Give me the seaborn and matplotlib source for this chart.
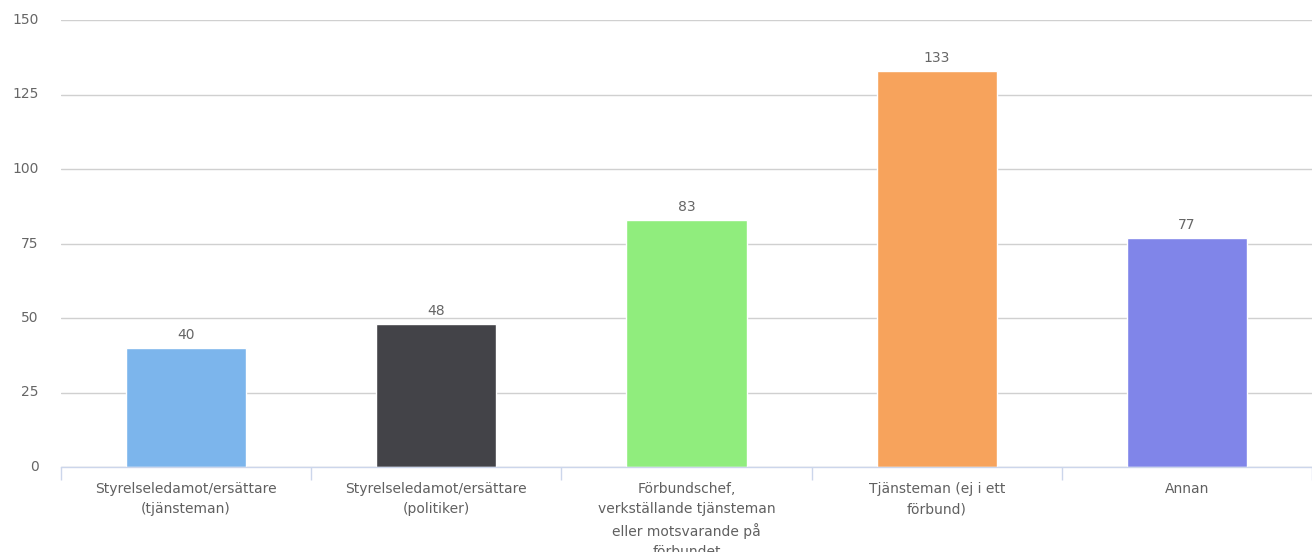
import matplotlib
matplotlib.use("Agg")
import matplotlib.pyplot as plt
import seaborn as sns
import pandas as pd
from matplotlib.ticker import FixedLocator

# data
categories = [
    "Styrelseledamot/ersättare\n(tjänsteman)",
    "Styrelseledamot/ersättare\n(politiker)",
    "Förbundschef,\nverkställande tjänsteman\neller motsvarande på\nförbundet",
    "Tjänsteman (ej i ett\nförbund)",
    "Annan",
]
values = [40, 48, 83, 133, 77]
colors = ["#7cb5ec", "#434348", "#90ed7d", "#f7a35c", "#8085e9"]
y_ticks = [0, 25, 50, 75, 100, 125, 150]

df = pd.DataFrame({"category": categories, "value": values})

sns.set_style("white")
plt.rcParams["font.family"] = ["DejaVu Sans"]

fig = plt.figure(figsize=(13.12, 5.52), dpi=100)
ax = fig.add_axes([61 / 1312, 85 / 552, 1 - 61 / 1312, 447 / 552])

sns.barplot(data=df, x="category", y="value", hue="category",
            palette=colors, legend=False, width=0.48, ax=ax,
            saturation=1, edgecolor="white", linewidth=1)

ax.set_ylim(0, 150)
ax.set_xlim(-0.5, len(categories) - 0.5)
ax.set_yticks(y_ticks)
ax.yaxis.grid(True, color="#d0d0d0", linewidth=1)
ax.set_axisbelow(True)
ax.set_xlabel("")
ax.set_ylabel("")

for s in ["top", "right", "left"]:
    ax.spines[s].set_visible(False)
ax.spines["bottom"].set_color("#ccd6eb")
ax.spines["bottom"].set_linewidth(1)

ax.tick_params(axis="y", length=0, pad=16, labelsize=10, labelcolor="#666666")
ax.tick_params(axis="x", which="major", length=0, pad=11, labelsize=10,
               labelcolor="#606060")
ax.xaxis.set_minor_locator(FixedLocator([i - 0.5 for i in range(len(categories) + 1)]))
ax.tick_params(axis="x", which="minor", bottom=True, direction="out",
               length=9, width=1, color="#ccd6eb")
for lbl in ax.get_xticklabels():
    lbl.set_linespacing(1.55)
    lbl.set_verticalalignment("top")
for lbl in ax.get_yticklabels():
    lbl.set_verticalalignment("center")

# value labels above bars
for i, v in enumerate(values):
    ax.annotate(str(v), (i, v), xytext=(0, 4), textcoords="offset points",
                ha="center", va="bottom", fontsize=10, color="#666666",
                annotation_clip=False)

fig.savefig("out.png", dpi=100, facecolor="white")
plt.close(fig)
